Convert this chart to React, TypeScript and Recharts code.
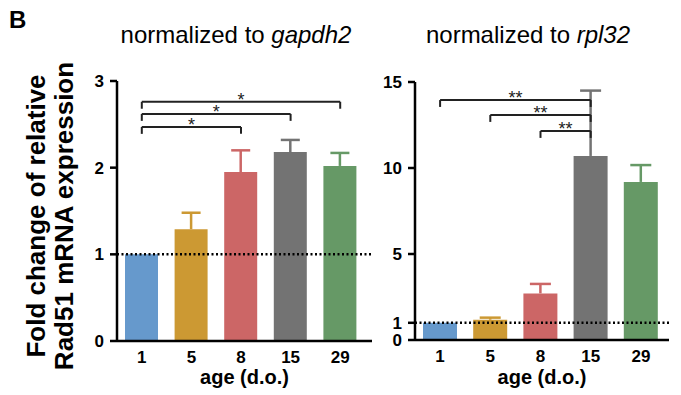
import React from 'react';
import { BarChart, Bar, XAxis, YAxis, Cell, ReferenceLine } from 'recharts';

const ages = ['1', '5', '8', '15', '29'];
const colors = ['#6699CC', '#CC9933', '#CC6666', '#737373', '#669966'];

// fold change, normalized to gapdh2
const gapdhMean = [1.0, 1.29, 1.95, 2.18, 2.02];
const gapdhErr = [0, 0.19, 0.25, 0.14, 0.15];
const gapdhTicks = [0, 1, 2, 3];

// fold change, normalized to rpl32
const rplMean = [1.0, 1.18, 2.71, 10.7, 9.19];
const rplErr = [0, 0.12, 0.55, 3.8, 0.98];
const rplTicks = [0, 1, 5, 10, 15];

// significance brackets (from, to, height in data units)
const gapdhFrom = ['1', '1', '1'];
const gapdhTo = ['8', '15', '29'];
const gapdhAt = [2.47, 2.62, 2.76];
const gapdhStars = ['*', '*', '*'];

const rplFrom = ['8', '5', '1'];
const rplTo = ['15', '15', '15'];
const rplAt = [12.15, 13.08, 13.95];
const rplStars = ['**', '**', '**'];

const FONT = '"Liberation Sans", Arial, Helvetica, sans-serif';

const ErrShape = (capW: number) => (props: any) => {
  const { x, y, width, height, index } = props;
  if (!height || height <= 0) return <g />;
  const cx = x + width / 2;
  const c = colors[index];
  return (
    <g>
      <line x1={cx} x2={cx} y1={y + height} y2={y} stroke={c} strokeWidth={2.5} />
      <line x1={cx - capW / 2} x2={cx + capW / 2} y1={y} y2={y} stroke={c} strokeWidth={2.5} />
    </g>
  );
};

type PanelProps = {
  left: number;
  width: number;
  top: number;
  bottom: number;
  yWidth: number;
  rightMargin: number;
  padRight: number;
  barSize: number;
  capW: number;
  max: number;
  ticks: number[];
  mean: number[];
  err: number[];
  from: string[];
  to: string[];
  at: number[];
  stars: string[];
  tickDrop: number;
};

const Panel = (p: PanelProps) => {
  const data = ages.map((age, i) => ({ age, mean: p.mean[i], err: p.err[i] }));
  return (
    <div style={{ position: 'absolute', left: p.left, top: 0 }}>
      <BarChart
        width={p.width}
        height={395}
        data={data}
        margin={{ top: p.top, right: p.rightMargin, bottom: 0, left: 0 }}
      >
        <XAxis
          dataKey="age"
          height={p.bottom}
          padding={{ left: 0, right: p.padRight }}
          tickLine={false}
          axisLine={{ stroke: '#000', strokeWidth: 2.5 }}
          tick={{ fontSize: 17, fontWeight: 'bold', fill: '#000', fontFamily: FONT }}
          tickMargin={4}
          label={{
            value: 'age (d.o.)',
            position: 'insideBottom',
            offset: 11,
            style: { fontSize: 20, fontWeight: 'bold', fill: '#000', fontFamily: FONT },
          }}
        />
        <YAxis
          width={p.yWidth}
          domain={[0, p.max]}
          ticks={p.ticks}
          interval={0}
          tickSize={7}
          tickMargin={6}
          tickLine={{ stroke: '#000', strokeWidth: 2.5 }}
          axisLine={{ stroke: '#000', strokeWidth: 2.5 }}
          tick={{ fontSize: 17, fontWeight: 'bold', fill: '#000', fontFamily: FONT }}
        />
        <Bar dataKey="mean" stackId="s" barSize={p.barSize} isAnimationActive={false}>
          {data.map((d, i) => (
            <Cell key={d.age} fill={colors[i]} />
          ))}
        </Bar>
        <Bar dataKey="err" stackId="s" barSize={p.barSize} isAnimationActive={false} shape={ErrShape(p.capW)} />
        <ReferenceLine y={1} stroke="#000" strokeWidth={2.5} strokeDasharray="2 2.5" />
        {p.from.map((f, i) => (
          <ReferenceLine
            key={'h' + i}
            segment={[{ x: f, y: p.at[i] }, { x: p.to[i], y: p.at[i] }]}
            stroke="#222"
            strokeWidth={2}
            label={{
              value: p.stars[i],
              position: 'top',
              offset: -4,
              style: { fontSize: 18, fill: '#222', fontFamily: FONT },
            }}
          />
        ))}
        {p.from.map((f, i) => (
          <ReferenceLine
            key={'a' + i}
            segment={[{ x: f, y: p.at[i] }, { x: f, y: p.at[i] - p.tickDrop }]}
            stroke="#222"
            strokeWidth={2}
          />
        ))}
        {p.to.map((t, i) => (
          <ReferenceLine
            key={'b' + i}
            segment={[{ x: t, y: p.at[i] }, { x: t, y: p.at[i] - p.tickDrop }]}
            stroke="#222"
            strokeWidth={2}
          />
        ))}
      </BarChart>
    </div>
  );
};

export default function App() {
  return (
    <div
      style={{
        position: 'absolute',
        left: 0,
        top: 0,
        width: 681,
        height: 395,
        background: '#fff',
        fontFamily: FONT,
        color: '#000',
        overflow: 'hidden',
      }}
    >
      <div style={{ position: 'absolute', left: 9, top: 8, fontSize: 24, fontWeight: 'bold', lineHeight: '24px' }}>B</div>
      <div style={{ position: 'absolute', left: 236, top: 21, fontSize: 24, lineHeight: '28px', transform: 'translateX(-50%)', whiteSpace: 'nowrap' }}>
        normalized to <i>gapdh2</i>
      </div>
      <div style={{ position: 'absolute', left: 528, top: 21, fontSize: 24, lineHeight: '28px', transform: 'translateX(-50%)', whiteSpace: 'nowrap' }}>
        normalized to <i>rpl32</i>
      </div>
      <div
        style={{
          position: 'absolute',
          left: 50,
          top: 216,
          transform: 'translate(-50%, -50%) rotate(-90deg)',
          whiteSpace: 'nowrap',
          textAlign: 'center',
          fontSize: 26,
          fontWeight: 'bold',
          lineHeight: '28px',
        }}
      >
        Fold change of relative
        <br />
        Rad51 mRNA expression
      </div>
      <Panel
        left={70}
        width={310}
        top={81}
        bottom={54}
        yWidth={47}
        rightMargin={8}
        padRight={7}
        barSize={33}
        capW={19}
        max={3}
        ticks={gapdhTicks}
        mean={gapdhMean}
        err={gapdhErr}
        from={gapdhFrom}
        to={gapdhTo}
        at={gapdhAt}
        stars={gapdhStars}
        tickDrop={0.08}
      />
      <Panel
        left={360}
        width={320}
        top={82}
        bottom={55}
        yWidth={55}
        rightMargin={11}
        padRight={3}
        barSize={34}
        capW={21}
        max={15}
        ticks={rplTicks}
        mean={rplMean}
        err={rplErr}
        from={rplFrom}
        to={rplTo}
        at={rplAt}
        stars={rplStars}
        tickDrop={0.4}
      />
    </div>
  );
}
